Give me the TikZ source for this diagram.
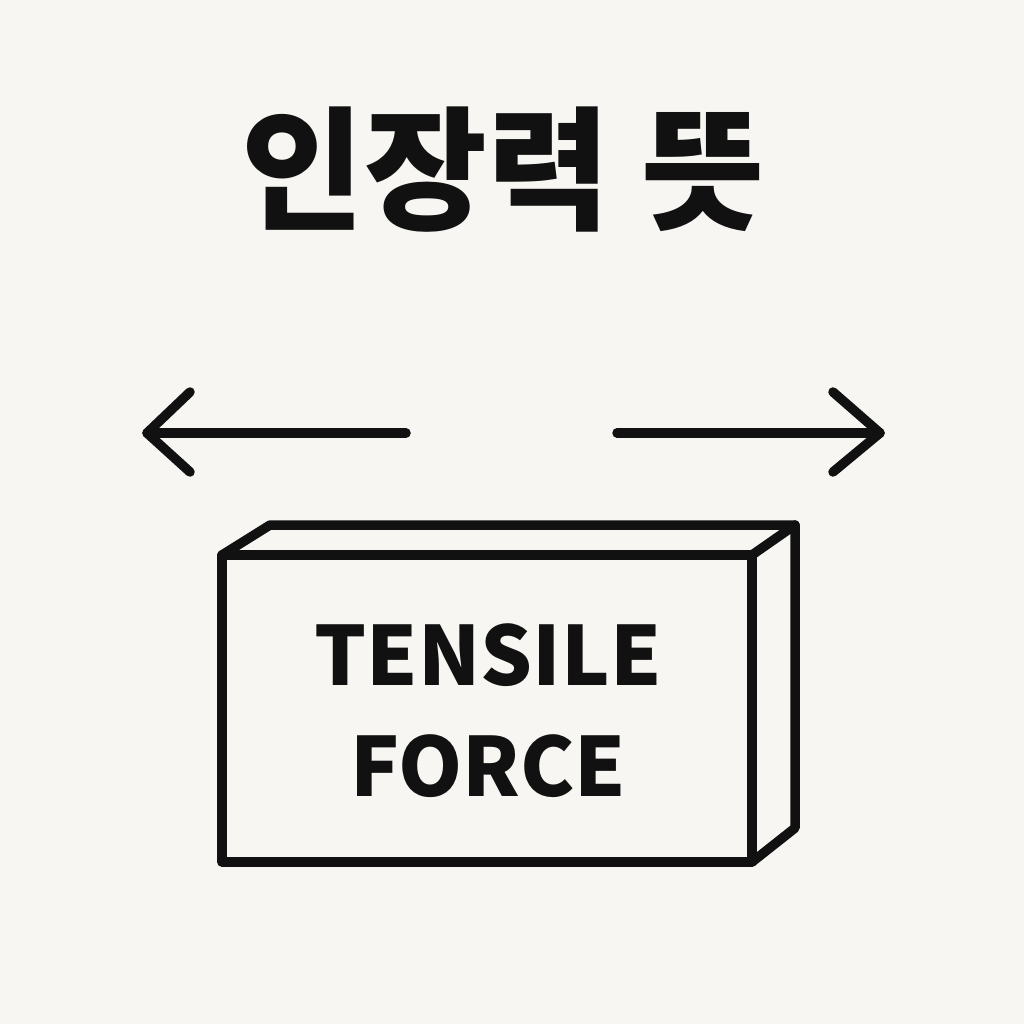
\documentclass[tikz,border=0pt]{standalone}
\usepackage{fontspec}
\setmainfont{Noto Sans}
\newfontfamily\cjk{Noto Sans CJK KR}
\definecolor{bg}{HTML}{F7F6F2}
\definecolor{ink}{HTML}{111111}
\begin{document}
\begin{tikzpicture}[x=0.01cm,y=-0.01cm,
  stroke/.style={draw=ink,line width=2.7pt,line cap=round,line join=round},
  label/.style={text=ink,font=\cjk\fontsize{23.2}{28}\selectfont\bfseries,align=center,inner sep=0pt}]
\fill[bg] (0,0) rectangle (1024,1024);
\useasboundingbox (0,0) rectangle (1024,1024);
\node[text=ink,font=\cjk\fontsize{38}{43}\selectfont\bfseries] (title) at (503,170) {인장력 뜻};
% left arrow
\coordinate (la) at (147,433);
\coordinate (lb) at (406,433);
\draw[stroke] (lb) -- (la);
\draw[stroke] (190,392) -- (la) -- (190,472);
% right arrow
\coordinate (ra) at (617,433);
\coordinate (rb) at (880,433);
\draw[stroke] (ra) -- (rb);
\draw[stroke] (833,392) -- (rb) -- (833,472);
% box
\draw[stroke] (222,555) rectangle (752,862);
\draw[stroke] (222,555) -- (270,525) -- (795,525) -- (752,555);
\draw[stroke] (795,525) -- (795,828) -- (752,862);
\node[label] (t1) at (488,655) {TENSILE};
\node[label] (t2) at (488,766) {FORCE};
\end{tikzpicture}
\end{document}
